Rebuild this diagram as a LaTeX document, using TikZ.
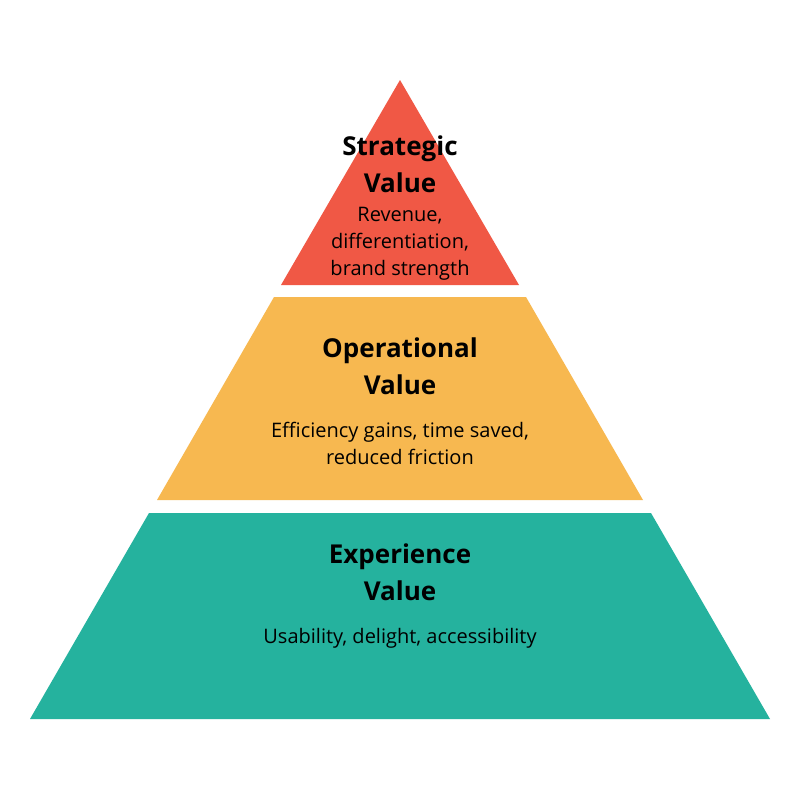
\documentclass[tikz,border=0pt]{standalone}
\usepackage{fontspec}
\setmainfont{Open Sans}
\definecolor{topred}{RGB}{240,88,69}
\definecolor{midorange}{RGB}{247,184,80}
\definecolor{baseteal}{RGB}{37,178,158}
\begin{document}
\begin{tikzpicture}[x=1pt,y=-1pt,
  title/.style={font=\fontsize{26}{37}\selectfont\bfseries, align=center, text=black, inner sep=0pt},
  body/.style={font=\fontsize{20}{27}\selectfont, align=center, text=black, inner sep=0pt}]
\useasboundingbox[fill=white] (0,0) rectangle (800,800);
\fill[topred] (400,80) -- (519,285) -- (281,285) -- cycle;
\fill[midorange] (274,297) -- (526,297) -- (643,500) -- (157,500) -- cycle;
\fill[baseteal] (149,513) -- (651,513) -- (770,719) -- (30,719) -- cycle;
\node[title] (sttitle) at (400,164) {Strategic\\Value};
\node[body] (stbody) at (400,244) {Revenue,\\differentiation,\\brand strength};
\node[title] (optitle) at (400,366) {Operational\\Value};
\node[body] (opbody) at (400,443) {Efficiency gains, time saved,\\reduced friction};
\node[title] (extitle) at (400,572) {Experience\\Value};
\node[body] (exbody) at (400,638) {Usability, delight, accessibility};
\end{tikzpicture}
\end{document}
